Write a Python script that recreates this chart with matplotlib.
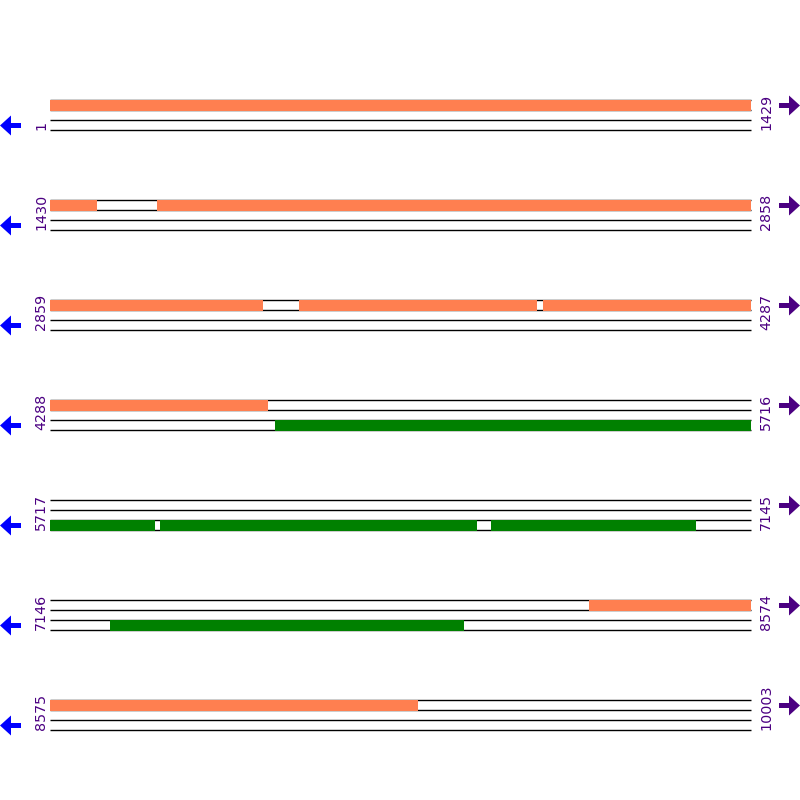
import matplotlib
matplotlib.use('Agg')
import matplotlib.pyplot as plt
from matplotlib.patches import Rectangle, Polygon

seq_len = 10003
row_len = 1429
# genes on the forward strand (start, end)
fwd_genes = [(1, 1525), (1649, 3292), (3367, 3850), (3865, 4732), (8245, 9325)]
# genes on the reverse strand
rev_genes = [(4747, 5931), (5941, 6587), (6617, 7032), (7268, 7988)]

fwd_color = '#FF7F50'
rev_color = '#008000'
label_color = '#4B0082'

W = 800
fig = plt.figure(figsize=(8, 8), dpi=100)
n_rows = (seq_len + row_len - 1) // row_len

for i in range(n_rows):
    start = i * row_len + 1
    end = min(start + row_len - 1, seq_len)
    top = 100 + 100 * i
    ax = fig.add_axes([50 / W, 1 - (top + 30) / W, 701 / W, 30 / W])
    ax.set_xlim(start - 0.5, end + 0.5)
    ax.set_ylim(0, 3)
    ax.axis('off')
    for y in [0, 1, 2, 3]:
        ax.plot([start - 0.5, end + 0.5], [y, y], color='black', lw=1, zorder=1,
                solid_capstyle='butt', clip_on=False)
    for genes, y0, col in [(fwd_genes, 2, fwd_color), (rev_genes, 0, rev_color)]:
        for g0, g1 in genes:
            a = max(g0, start)
            b = min(g1, end)
            if a > b:
                continue
            ax.add_patch(Rectangle((a - 0.5, y0 - 0.05), b - a + 1, 1.1,
                                   facecolor=col, edgecolor='none', zorder=2,
                                   clip_on=False))
    # position labels
    fig.text(41 / W, 1 - (top + 30) / W, str(start), rotation=90, ha='center', va='bottom',
             color=label_color, fontsize=10.3, fontweight='medium')
    fig.text(766 / W, 1 - (top + 30) / W, str(end), rotation=90, ha='center', va='bottom',
             color=label_color, fontsize=10.3, fontweight='medium')
    # strand arrows
    cy = top + 25.5
    left = [(0, cy), (11, cy - 10), (11, cy - 2.5), (21, cy - 2.5), (21, cy + 2.5),
            (11, cy + 2.5), (11, cy + 10)]
    fig.patches.append(Polygon([(x / W, 1 - y / W) for x, y in left], closed=True,
                               facecolor='#0000FF', edgecolor='none',
                               transform=fig.transFigure))
    cy = top + 5.5
    right = [(800, cy), (789, cy - 10), (789, cy - 2.5), (779, cy - 2.5), (779, cy + 2.5),
             (789, cy + 2.5), (789, cy + 10)]
    fig.patches.append(Polygon([(x / W, 1 - y / W) for x, y in right], closed=True,
                               facecolor=label_color, edgecolor='none',
                               transform=fig.transFigure))

fig.savefig('out.png', dpi=100)
